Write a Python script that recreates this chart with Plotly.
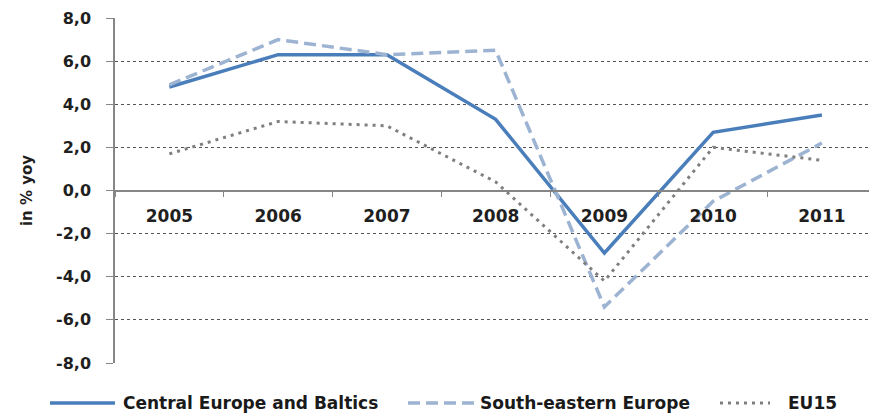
import plotly.graph_objects as go

# Real GDP growth, in % year on year
years = ["2005", "2006", "2007", "2008", "2009", "2010", "2011"]
central_europe_baltics = [4.8, 6.3, 6.3, 3.3, -2.9, 2.7, 3.5]
south_eastern_europe = [4.9, 7.0, 6.3, 6.5, -5.4, -0.5, 2.2]
eu15 = [1.7, 3.2, 3.0, 0.4, -4.2, 2.0, 1.4]

series_names = ["Central Europe and Baltics", "South-eastern Europe", "EU15"]
y_ticks = [8, 6, 4, 2, 0, -2, -4, -6, -8]
y_tick_text = [f"{v:.1f}".replace(".", ",") for v in y_ticks]

W, H = 869, 414
ML, MR, MT, MB = 115, 0, 18, 51
FONT = "DejaVu Sans"

styles = [
    dict(color="#4a7ebb", width=3.5, dash="solid"),
    dict(color="#9db3d2", width=3.5, dash="12px,6px"),
    dict(color="#7f7f7f", width=3, dash="3px,5px"),
]

fig = go.Figure()
for name, vals, st in zip(series_names, [central_europe_baltics, south_eastern_europe, eu15], styles):
    fig.add_trace(go.Scatter(x=years, y=vals, mode="lines", name=name,
                             line=st, showlegend=False, hoverinfo="x+y+name"))

fig.update_layout(
    width=W, height=H,
    margin=dict(l=ML, r=MR, t=MT, b=MB),
    paper_bgcolor="white", plot_bgcolor="white",
    font=dict(family=FONT, color="#1f1f1f"),
    xaxis=dict(
        type="category", range=[-0.5, 6.433],
        anchor="free", position=0.5,
        showline=True, linecolor="#868686", linewidth=1.5,
        ticks="outside", tickson="boundaries", ticklen=6, tickcolor="#868686",
        showgrid=False, zeroline=False,
        tickfont=dict(family=FONT, size=17, color="#1f1f1f", weight="bold"),
        ticklabelstandoff=10,
    ),
    yaxis=dict(
        range=[-8, 8], tickvals=y_ticks, ticktext=y_tick_text,
        showline=True, linecolor="#868686", linewidth=1.5,
        ticks="outside", ticklen=7, tickcolor="#868686",
        showgrid=True, gridcolor="#555555", gridwidth=1, griddash="dot",
        zeroline=False,
        tickfont=dict(family=FONT, size=16, color="#1f1f1f", weight="bold"),
        ticklabelstandoff=12,
        title=dict(text="in % yoy", standoff=20,
                   font=dict(family=FONT, size=15, color="#1f1f1f", weight="bold")),
    ),
)

# Legend drawn beneath the plot: sample line followed by the series name
def px_to_paper(px, py):
    return (px - ML) / (W - ML - MR), (H - MB - py) / (H - MT - MB)

legend_items = [
    (50, 115, 121),
    (408, 474, 478),
    (720, 770, 786),
]
leg_y = 403
for (x0, x1, tx), name, st in zip(legend_items, series_names, styles):
    a0, b0 = px_to_paper(x0, leg_y)
    a1, _ = px_to_paper(x1, leg_y)
    fig.add_shape(type="line", xref="paper", yref="paper", x0=a0, x1=a1, y0=b0, y1=b0,
                  line=st)
    ta, tb = px_to_paper(tx, leg_y)
    fig.add_annotation(xref="paper", yref="paper", x=ta, y=tb, text=name,
                       showarrow=False, xanchor="left", yanchor="middle",
                       font=dict(family=FONT, size=17, color="#1a1a1a", weight="bold"))

fig.write_html("out.html")
